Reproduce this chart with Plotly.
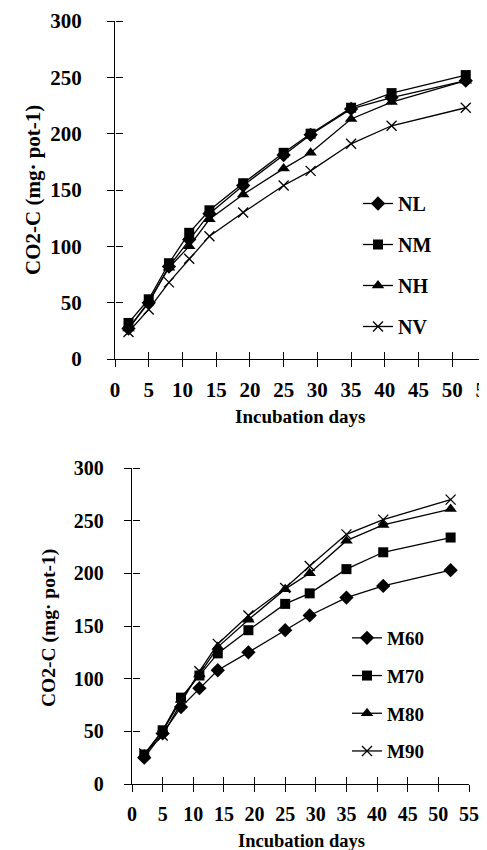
import plotly.graph_objects as go

# ---------------- data ----------------
days = [2, 5, 8, 11, 14, 19, 25, 29, 35, 41, 52]

top_names = ["NL", "NM", "NH", "NV"]
NL = [27, 50, 82, 106, 129, 154, 181, 199, 222, 232, 247]
NM = [32, 53, 85, 112, 132, 156, 183, 200, 223, 236, 252]
NH = [27, 51, 81, 100, 124, 146, 169, 183, 213, 228, 247]
NV = [24, 44, 68, 89, 109, 130, 154, 167, 191, 207, 223]

bot_names = ["M60", "M70", "M80", "M90"]
M60 = [25, 48, 73, 91, 108, 125, 146, 160, 177, 188, 203]
M70 = [28, 51, 82, 103, 124, 146, 171, 181, 204, 220, 234]
M80 = [28, 50, 80, 104, 130, 156, 185, 200, 231, 246, 261]
M90 = [29, 46, 77, 107, 133, 160, 186, 207, 237, 251, 270]

x_ticks = [0, 5, 10, 15, 20, 25, 30, 35, 40, 45, 50, 55]
y_ticks = [0, 50, 100, 150, 200, 250, 300]
x_title = "Incubation days"
y_title = "CO2-C (mg· pot-1)"

symbols = ["diamond", "square", "triangle-up", "x-thin"]
sizes = [11, 10, 11, 10]

FONT = "Liberation Serif"
W, H = 487, 850
OFFY = 8  # vertical page offset


def PX(px):
    return px / W


def PY(py):
    return 1 - (py - OFFY) / H


fig = go.Figure()


def add_series(names, series, xa, ya, leg):
    for i, (nm, vals) in enumerate(zip(names, series)):
        fig.add_trace(go.Scatter(
            x=days, y=vals, mode="lines+markers", name=nm,
            xaxis=xa, yaxis=ya, legend=leg, legendgroup=leg + nm,
            line=dict(color="black", width=1.3),
            marker=dict(symbol=symbols[i], size=sizes[i], color="black",
                        line=dict(color="black", width=1.3 if symbols[i] == "x-thin" else 0)),
        ))


add_series(top_names, [NL, NM, NH, NV], "x", "y", "legend")
add_series(bot_names, [M60, M70, M80, M90], "x2", "y2", "legend2")

# transparent traces that activate the overlay axes carrying inside tick marks
for xa, ya, vals in [("x3", "y3", NL), ("x4", "y4", M60)]:
    fig.add_trace(go.Scatter(x=days, y=vals, xaxis=xa, yaxis=ya, mode="markers",
                             marker=dict(opacity=0, size=1), showlegend=False,
                             hoverinfo="skip"))


def bold(size):
    return dict(family=FONT, size=size, color="black", weight="bold")


def xax(domain, anchor, tsize):
    return dict(domain=domain, anchor=anchor, range=[0, 55], tickmode="array",
                tickvals=x_ticks, ticktext=[str(v) for v in x_ticks],
                ticks="outside", ticklen=7, tickwidth=1.3, tickcolor="black",
                showline=True, linecolor="black", linewidth=1.3,
                showgrid=False, zeroline=False, tickfont=bold(tsize),
                ticklabelstandoff=5, ticklabeloverflow="allow", automargin=False)


def yax(domain, anchor, tsize, standoff):
    return dict(domain=domain, anchor=anchor, range=[0, 300], tickmode="array",
                tickvals=y_ticks, ticktext=[str(v) for v in y_ticks],
                ticks="outside", ticklen=7, tickwidth=1.3, tickcolor="black",
                showline=True, linecolor="black", linewidth=1.3,
                showgrid=False, zeroline=False, tickfont=bold(tsize),
                ticklabelstandoff=standoff, automargin=False)


TICKC = "black"


def inside_x(over, anchor, domain):
    return dict(overlaying=over, anchor=anchor, domain=domain, range=[0, 55],
                tickmode="array", tickvals=x_ticks, ticks="inside", ticklen=7,
                tickwidth=1.3, tickcolor=TICKC, showticklabels=False,
                showline=False, showgrid=False, zeroline=False, automargin=False)


def inside_y(over, position, domain):
    # right-side axis placed on the left axis line: outside ticks point inward
    return dict(overlaying=over, anchor="free", position=position, side="right",
                domain=domain, range=[0, 300],
                tickmode="array", tickvals=y_ticks, ticks="outside", ticklen=7,
                tickwidth=1.3, tickcolor=TICKC, showticklabels=False,
                showline=False, showgrid=False, zeroline=False, automargin=False)


# pixel geometry -> paper fractions
tdx, tdy = [PX(107), PX(478)], [PY(359), PY(21)]
bdx, bdy = [PX(124), PX(461)], [PY(784), PY(468)]

annotations = [
    dict(text=x_title, x=PX(292), y=PY(416), xref="paper", yref="paper",
         showarrow=False, font=bold(19), xanchor="center", yanchor="middle"),
    dict(text=y_title, x=PX(25), y=PY(190), xref="paper", yref="paper",
         showarrow=False, font=bold(21), textangle=-90,
         xanchor="center", yanchor="middle"),
    dict(text=x_title, x=PX(293), y=PY(841), xref="paper", yref="paper",
         showarrow=False, font=bold(18.5), xanchor="center", yanchor="middle"),
    dict(text=y_title, x=PX(41), y=PY(628), xref="paper", yref="paper",
         showarrow=False, font=bold(19.5), textangle=-90,
         xanchor="center", yanchor="middle"),
]

fig.update_layout(
    width=W, height=H, margin=dict(l=0, r=0, t=0, b=0),
    paper_bgcolor="white", plot_bgcolor="white",
    xaxis=xax(tdx, "y", 21),
    yaxis=yax(tdy, "x", 21, 21),
    xaxis2=xax(bdx, "y2", 20),
    yaxis2=yax(bdy, "x2", 20, 16),
    xaxis3=inside_x("x", "y3", tdx),
    yaxis3=inside_y("y", tdx[0], tdy),
    xaxis4=inside_x("x2", "y4", bdx),
    yaxis4=inside_y("y2", bdx[0], bdy),
    legend=dict(x=PX(350), y=PY(184), xanchor="left", yanchor="top",
                font=bold(20), bgcolor="rgba(0,0,0,0)", tracegroupgap=12,
                itemwidth=30),
    legend2=dict(x=PX(339), y=PY(619), xanchor="left", yanchor="top",
                 font=bold(19), bgcolor="rgba(0,0,0,0)", tracegroupgap=10,
                 itemwidth=30),
    annotations=annotations,
    showlegend=True,
)

fig.write_html("out.html")
